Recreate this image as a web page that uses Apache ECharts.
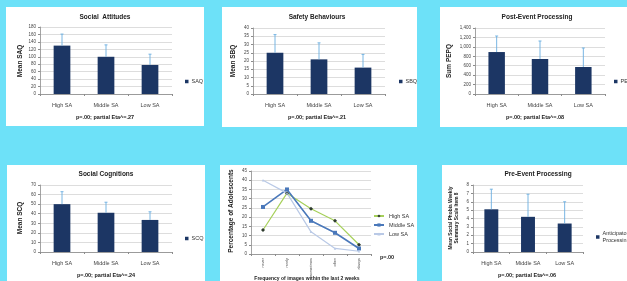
<!DOCTYPE html>
<html>
<head>
<meta charset="utf-8">
<script src="https://cdn.jsdelivr.net/npm/echarts@6/dist/echarts.min.js"></script>
<style>
  html, body { margin:0; padding:0; }
  body { width:627px; height:281px; background:#6de1f8; position:relative; overflow:hidden; }
  .panel { position:absolute; background:#ffffff; }
</style>
</head>
<body>
<div class="panel" id="p1" style="left:6px;top:7px;width:198px;height:119px"></div>
<div class="panel" id="p2" style="left:222px;top:7px;width:195px;height:120px"></div>
<div class="panel" id="p3" style="left:440px;top:7px;width:187px;height:120px"></div>
<div class="panel" id="p4" style="left:7px;top:165px;width:198px;height:116px"></div>
<div class="panel" id="p5" style="left:220px;top:165px;width:197px;height:116px"></div>
<div class="panel" id="p6" style="left:442px;top:165px;width:185px;height:116px"></div>
<script>
var FONT = 'Liberation Sans, Arial, sans-serif';

// group means and the +SD ends of the error bars
var categories = ['High SA', 'Middle SA', 'Low SA'];
var saqMean = [130, 100, 78];
var saqSd = [31, 32, 29];
var sbqMean = [25, 21, 16];
var sbqSd = [11, 10, 8];
var pepqMean = [890, 742, 573];
var pepqSd = [340, 382, 403];
var scqMean = [50, 41, 33.5];
var scqSd = [13, 11, 8.5];
var antMean = [5.1, 4.2, 3.4];
var antSd = [2.4, 2.7, 2.6];

// frequency of images (line chart)
var freqCats = ['never', 'rarely', 'sometimes', 'often', 'always'];
var highSA = [13, 33, 24.5, 18, 5];
var middleSA = [25.5, 35, 18, 11.5, 3];
var lowSA = [40, 33, 12, 3, 1.5];

function txt(x, y, s, size, opt) {
  opt = opt || {};
  return {
    type: 'text', x: x, y: y, rotation: opt.rot || 0, z: 10,
    style: {
      text: s, fill: opt.color || '#222',
      font: (opt.italic ? 'italic ' : '') + (opt.bold === false ? '' : 'bold ') + size + 'px ' + FONT,
      align: 'center', verticalAlign: 'middle', textAlign: 'center', textVerticalAlign: 'middle',
      lineHeight: size + 1
    }
  };
}

function barPanel(id, o) {
  var chart = echarts.init(document.getElementById(id));
  var errData = o.mean.map(function (m, i) { return [i, m, m + o.sd[i]]; });
  chart.setOption({
    animation: false,
    textStyle: { fontFamily: FONT },
    grid: o.grid,
    legend: {
      data: [o.legendName], left: o.legendX, top: o.legendY, orient: 'vertical',
      icon: 'rect', itemWidth: 3.5, itemHeight: 3.5, itemGap: 2,
      formatter: function (n) { return o.legendText || n; },
      textStyle: { fontSize: 5.5, color: '#333', fontFamily: FONT, lineHeight: 7, padding: [0, 0, 0, -2] }
    },
    xAxis: {
      type: 'category', data: categories,
      axisLine: { lineStyle: { color: '#8c8c8c', width: 0.8 } },
      axisTick: { show: true, length: 2, lineStyle: { color: '#8c8c8c' } },
      axisLabel: { fontSize: 5.5, color: '#444', margin: o.catMargin || 8 }
    },
    yAxis: {
      type: 'value', min: 0, max: o.max, interval: o.interval,
      axisLine: { show: true, lineStyle: { color: '#8c8c8c', width: 0.8 } },
      axisTick: { show: true, length: 2, lineStyle: { color: '#8c8c8c' } },
      axisLabel: { fontSize: 4.5, color: '#444', margin: 4 },
      splitLine: { lineStyle: { color: '#d4d4d4', width: 0.8 } }
    },
    series: [
      {
        name: o.legendName, type: 'bar', data: o.mean, barWidth: '38%',
        itemStyle: { color: '#1c3664' }
      },
      {
        type: 'custom', data: errData, z: 5,
        renderItem: function (params, api) {
          var base = api.coord([api.value(0), api.value(1)]);
          var top = api.coord([api.value(0), api.value(2)]);
          var st = { stroke: '#6aaee0', lineWidth: 0.9 };
          return {
            type: 'group', children: [
              { type: 'line', shape: { x1: base[0], y1: base[1], x2: top[0], y2: top[1] }, style: st },
              { type: 'line', shape: { x1: top[0] - 1.5, y1: top[1], x2: top[0] + 1.5, y2: top[1] }, style: st }
            ]
          };
        }
      }
    ],
    graphic: o.texts
  });
}

barPanel('p1', {
  mean: saqMean, sd: saqSd, max: 180, interval: 20, legendName: 'SAQ',
  grid: { left: 34, right: 32, top: 20, bottom: 32 },
  legendX: 174, legendY: 66,
  texts: [
    txt(99, 10, 'Social  Attitudes', 6.5),
    txt(14, 54, 'Mean SAQ', 6.5, { rot: Math.PI / 2 }),
    txt(99, 110, 'p=.00; partial Eta^=.27', 5.5)
  ]
});

barPanel('p2', {
  mean: sbqMean, sd: sbqSd, max: 40, interval: 5, legendName: 'SBQ',
  grid: { left: 31, right: 32, top: 21, bottom: 33 },
  legendX: 172, legendY: 66,
  texts: [
    txt(95, 10, 'Safety Behaviours', 6.5),
    txt(11, 54, 'Mean SBQ', 6.5, { rot: Math.PI / 2 }),
    txt(95, 110, 'p=.00; partial Eta^=.21', 5.5)
  ]
});

barPanel('p3', {
  mean: pepqMean, sd: pepqSd, max: 1400, interval: 200, legendName: 'PEPQ',
  grid: { left: 35, right: 22, top: 21, bottom: 33 },
  legendX: 169, legendY: 66,
  texts: [
    txt(97, 10, 'Post-Event Processing', 6.5),
    txt(9, 54, 'Sum PEPQ', 6.5, { rot: Math.PI / 2 }),
    txt(95, 110, 'p=.00; partial Eta^=.08', 5.5)
  ]
});

barPanel('p4', {
  mean: scqMean, sd: scqSd, max: 70, interval: 10, legendName: 'SCQ',
  grid: { left: 33, right: 33, top: 20, bottom: 29 },
  legendX: 173, legendY: 65,
  texts: [
    txt(99, 9, 'Social Cognitions', 6.5),
    txt(13, 53, 'Mean SCQ', 6.5, { rot: Math.PI / 2 }),
    txt(99, 110, 'p=.00; partial Eta^=.24', 5.5)
  ]
});

barPanel('p6', {
  mean: antMean, sd: antSd, max: 8, interval: 1, legendName: 'Anticipatory Processing',
  legendText: 'Anticipatory\nProcessing',
  grid: { left: 31, right: 44, top: 20, bottom: 29 },
  legendX: 149, legendY: 60,
  texts: [
    txt(96, 9, 'Pre-Event Processing', 6.5),
    txt(12, 53, 'Mean Social Phobia Weekly\nSummary Scale Item 8', 4.8, { rot: Math.PI / 2 }),
    txt(85, 110, 'p=.00; partial Eta^=.06', 5.5)
  ]
});

// line chart
var lc = echarts.init(document.getElementById('p5'));
lc.setOption({
  animation: false,
  textStyle: { fontFamily: FONT },
  grid: { left: 31, right: 46, top: 6, bottom: 27 },
  legend: {
    data: ['High SA', 'Middle SA', 'Low SA'], left: 148, top: 43, orient: 'vertical',
    itemWidth: 10, itemHeight: 4, itemGap: 3,
    textStyle: { fontSize: 5.5, color: '#333', fontFamily: FONT }
  },
  xAxis: {
    type: 'category', data: freqCats,
    axisLine: { lineStyle: { color: '#8c8c8c', width: 0.8 } },
    axisTick: { show: true, length: 2, lineStyle: { color: '#8c8c8c' } },
    axisLabel: { fontSize: 3.8, color: '#555', rotate: 90, margin: 4 }
  },
  yAxis: {
    type: 'value', min: 0, max: 45, interval: 5,
    axisLine: { show: true, lineStyle: { color: '#8c8c8c', width: 0.8 } },
    axisTick: { show: true, length: 2, lineStyle: { color: '#8c8c8c' } },
    axisLabel: { fontSize: 4.5, color: '#444', margin: 4 },
    splitLine: { lineStyle: { color: '#d4d4d4', width: 0.8 } }
  },
  series: [
    {
      name: 'High SA', type: 'line', data: highSA, symbol: 'diamond', symbolSize: 4,
      itemStyle: { color: '#2e3b2e' }, lineStyle: { color: '#a6d05a', width: 1.2 }
    },
    {
      name: 'Middle SA', type: 'line', data: middleSA, symbol: 'rect', symbolSize: 4,
      itemStyle: { color: '#4a78ba' }, lineStyle: { color: '#4a78ba', width: 1.6 }
    },
    {
      name: 'Low SA', type: 'line', data: lowSA, symbol: 'triangle', symbolSize: 2.5,
      itemStyle: { color: '#b9c9e6' }, lineStyle: { color: '#b9c9e6', width: 1.2 }
    }
  ],
  graphic: [
    txt(11, 46, 'Percentage of Adolescents', 6.5, { rot: Math.PI / 2 }),
    txt(87, 114, 'Frequency of images within the last 2 weeks', 5),
    txt(167, 92, 'p=.00', 5.5)
  ]
});
</script>
</body>
</html>
